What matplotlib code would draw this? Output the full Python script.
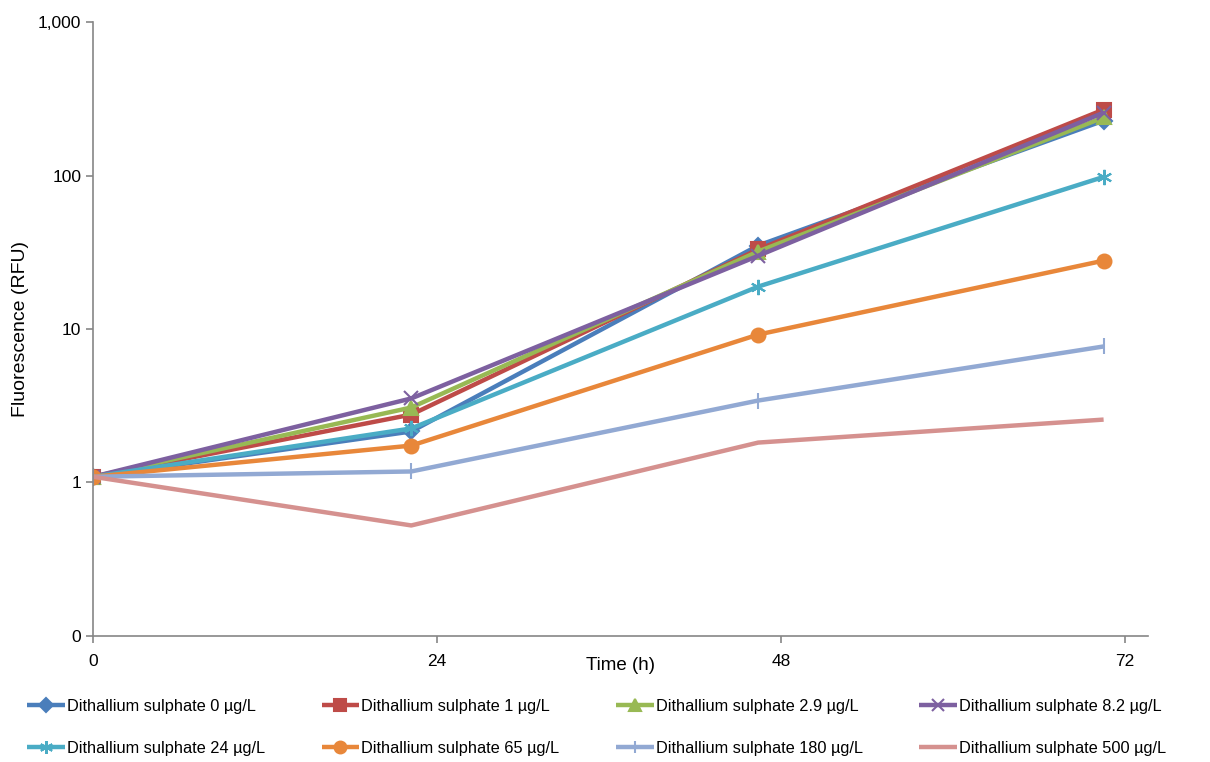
import matplotlib
matplotlib.use('Agg')
from matplotlib import pyplot as plt
from matplotlib.ticker import FixedLocator, NullLocator

plt.rcParams['font.family'] = ['Liberation Sans', 'DejaVu Sans']

# sampling times (h)
hours = [0, 22.2, 46.4, 70.5]

# fluorescence (RFU) per dithallium sulphate concentration
conc_0 = [1.09, 2.15, 35, 228]
conc_1 = [1.09, 2.77, 33, 269]
conc_2_9 = [1.09, 3.08, 32, 239]
conc_8_2 = [1.09, 3.53, 30, 257]
conc_24 = [1.09, 2.25, 18.9, 98]
conc_65 = [1.09, 1.74, 9.2, 27.9]
conc_180 = [1.09, 1.18, 3.42, 7.7]
conc_500 = [1.09, 0.525, 1.82, 2.57]

series = [
    ('Dithallium sulphate 0 µg/L', conc_0, '#4A7EBB', 'D', 8),
    ('Dithallium sulphate 1 µg/L', conc_1, '#BE4B48', 's', 10),
    ('Dithallium sulphate 2.9 µg/L', conc_2_9, '#98B954', '^', 10),
    ('Dithallium sulphate 8.2 µg/L', conc_8_2, '#7D60A0', 'x', 10),
    ('Dithallium sulphate 24 µg/L', conc_24, '#4AACC5', (6, 2, 0), 11),
    ('Dithallium sulphate 65 µg/L', conc_65, '#E8873A', 'o', 10),
    ('Dithallium sulphate 180 µg/L', conc_180, '#92A9D3', '|', 11),
    ('Dithallium sulphate 500 µg/L', conc_500, '#D5918F', None, 0),
]

fig, ax = plt.subplots(figsize=(12.1, 7.62), dpi=100)
fig.subplots_adjust(left=0.0769, right=0.9488, top=0.971, bottom=0.1654)

handles = []
for label, vals, color, marker, ms in series:
    h, = ax.plot(hours, vals, color=color, lw=3.2, marker=marker, markersize=ms,
                 markeredgewidth=1.5, label=label, solid_capstyle='butt')
    handles.append(h)

ax.set_yscale('log')
ax.set_ylim(0.1, 1000)
ax.set_xlim(0, 73.6)
ax.yaxis.set_major_locator(FixedLocator([0.1, 1, 10, 100, 1000]))
ax.yaxis.set_minor_locator(NullLocator())
ax.set_yticklabels(['0', '1', '10', '100', '1,000'])
ax.set_xticks([0, 24, 48, 72])

for side in ['top', 'right']:
    ax.spines[side].set_visible(False)
for side in ['left', 'bottom']:
    ax.spines[side].set_color('#868686')
    ax.spines[side].set_linewidth(1.2)
ax.tick_params(axis='both', colors='#868686', labelcolor='black', labelsize=12.5,
               length=5, width=1.2, direction='out')
ax.tick_params(axis='x', pad=8)

ax.set_xlabel('Time (h)', fontsize=13.5)
ax.xaxis.set_label_coords(0.5, -0.034)
ax.set_ylabel('Fluorescence (RFU)', fontsize=14)
ax.yaxis.set_label_coords(-0.061, 0.5)

order = [0, 4, 1, 5, 2, 6, 3, 7]
fig.legend([handles[i] for i in order], [series[i][0] for i in order],
           loc='upper center', bbox_to_anchor=(0.493, 0.102), ncol=4,
           frameon=False, fontsize=11.8, handlelength=2.3, handletextpad=0.12,
           columnspacing=3.45, labelspacing=1.65, markerscale=0.85)

fig.savefig('out.png', dpi=100)
